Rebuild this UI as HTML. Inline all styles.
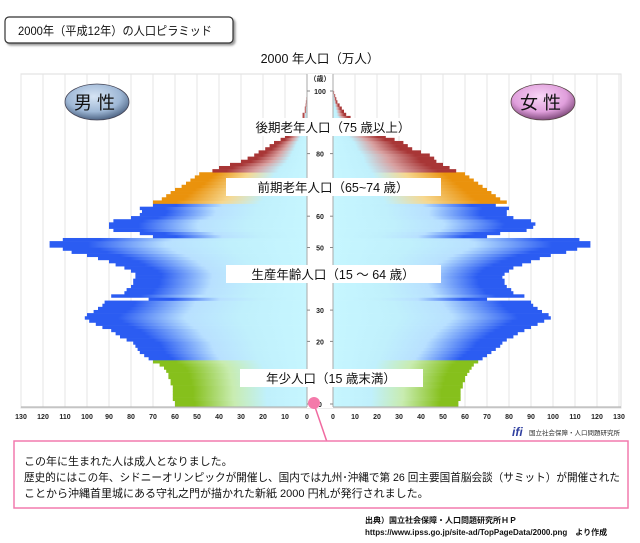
<!DOCTYPE html>
<html><head><meta charset="utf-8">
<style>
body{margin:0;background:#fff;width:640px;height:543px;overflow:hidden;font-family:"Liberation Sans","Noto Sans CJK JP",sans-serif;}
svg{position:absolute;left:0;top:0}
</style></head>
<body>
<svg id="s" width="640" height="543" viewBox="0 0 640 543" xmlns="http://www.w3.org/2000/svg" font-family="Liberation Sans, Noto Sans CJK JP, sans-serif">
<defs>
<filter id="sh" x="-10%" y="-10%" width="130%" height="150%"><feDropShadow dx="2" dy="2" stdDeviation="1" flood-color="#555" flood-opacity="0.6"/></filter>
<radialGradient id="ob" cx="45%" cy="35%" r="70%"><stop offset="0" stop-color="#d6e4f4"/><stop offset="0.6" stop-color="#9fb8d6"/><stop offset="1" stop-color="#3e5474"/></radialGradient>
<radialGradient id="op" cx="45%" cy="35%" r="70%"><stop offset="0" stop-color="#f8d6f6"/><stop offset="0.6" stop-color="#e09fdc"/><stop offset="1" stop-color="#6e3a6a"/></radialGradient>
</defs>
<g id="grid"></g>
<g id="bars"></g>
<rect x="307" y="74" width="26" height="334" fill="#fff"/>
<g id="axis"></g>
<rect x="5" y="17" width="228" height="26" rx="4" fill="#fff" stroke="#333" stroke-width="1.2" filter="url(#sh)"/>
<text x="18" y="35" font-size="12" fill="#111" textLength="194" lengthAdjust="spacingAndGlyphs">2000年（平成12年）の人口ピラミッド</text>
<text x="320" y="63" font-size="12.5" text-anchor="middle" fill="#111">2000 年人口（万人）</text>
<ellipse cx="97" cy="102" rx="32" ry="18" fill="url(#ob)" stroke="#445" stroke-width="0.8"/>
<text x="97" y="109" font-size="18" text-anchor="middle" fill="#111" letter-spacing="5">男性</text>
<ellipse cx="543" cy="102" rx="32" ry="18" fill="url(#op)" stroke="#544" stroke-width="0.8"/>
<text x="543" y="109" font-size="18" text-anchor="middle" fill="#111" letter-spacing="5">女性</text>
<rect x="258" y="118" width="150" height="18" fill="#fff"/>
<text x="333" y="132" font-size="12.5" text-anchor="middle" fill="#111">後期老年人口（75 歳以上）</text>
<rect x="226" y="178" width="215" height="18" fill="#fff"/>
<text x="333" y="192" font-size="12.5" text-anchor="middle" fill="#111">前期老年人口（65~74 歳）</text>
<rect x="226" y="265" width="215" height="18" fill="#fff"/>
<text x="333" y="279" font-size="12.5" text-anchor="middle" fill="#111">生産年齢人口（15 ～ 64 歳）</text>
<rect x="240" y="369" width="183" height="18" fill="#fff"/>
<text x="331" y="383" font-size="12.5" text-anchor="middle" fill="#111">年少人口（15 歳末満）</text>
<line x1="314" y1="404" x2="327" y2="442" stroke="#f06aa0" stroke-width="1.5"/>
<circle cx="314" cy="403" r="6" fill="#f47aaa"/>
<text x="512" y="436" font-size="12" font-style="italic" font-weight="bold" fill="#3040a0">ifi</text>
<text x="529" y="435" font-size="6.5" fill="#333">国立社会保障・人口問題研究所</text>
<rect x="14" y="441" width="614" height="67" fill="#fff" stroke="#f27aae" stroke-width="1.5"/>
<text x="24" y="465" font-size="11" fill="#111">この年に生まれた人は成人となりました。</text>
<text x="24" y="481" font-size="11" fill="#111" textLength="596" lengthAdjust="spacingAndGlyphs">歴史的にはこの年、シドニーオリンピックが開催し、国内では九州･沖縄で第 26 回主要国首脳会談（サミット）が開催された</text>
<text x="24" y="497" font-size="11" fill="#111">ことから沖縄首里城にある守礼之門が描かれた新紙 2000 円札が発行されました。</text>
<text x="365" y="523" font-size="8" font-weight="bold" fill="#111">出典）国立社会保障・人口問題研究所ＨＰ</text>
<text x="365" y="535" font-size="8" font-weight="bold" fill="#111">https://www.ipss.go.jp/site-ad/TopPageData/2000.png　より作成</text>
</svg>
<script>
var NS="http://www.w3.org/2000/svg";
function el(t,a,p){var e=document.createElementNS(NS,t);for(var k in a)e.setAttribute(k,a[k]);p.appendChild(e);return e;}
var s=document.getElementById('s'),defs=s.querySelector('defs'),grid=document.getElementById('grid'),bars=document.getElementById('bars'),axis=document.getElementById('axis');
var L0=307,R0=333,K=2.2;
el('rect',{x:21,y:74,width:600,height:334,fill:'#fff',stroke:'#ddd','stroke-width':1},grid);
for(var v=10;v<=130;v+=10){
 el('line',{x1:L0-v*K,y1:74,x2:L0-v*K,y2:407,stroke:'#e4e4e4','stroke-width':1},grid);
 el('line',{x1:R0+v*K,y1:74,x2:R0+v*K,y2:407,stroke:'#e4e4e4','stroke-width':1},grid);
}
var M=[60,60,61,61,61,61,61,62,62,63,63,64,65,67,70,72,74,76,77,78,79,82,85,87,89,93,96,99,101,100,97,95,93,92,72,89,83,82,80,79,79,78,78,80,83,87,90,95,100,107,111,117,117,111,70,76,88,90,90,88,80,76,75,76,70,70,66,64,62,60,57,55,53,51,49,43,40,35,30,27,24,22,19,17,15,12,10,8,7,5,3,3,2,2,1,1,.6,.5,.3,.2,.1];
var F=[57,57,58,58,58,58,59,59,60,60,61,62,63,64,66,68,70,72,74,76,77,79,82,84,87,90,93,96,99,98,95,93,91,90,70,87,82,81,79,78,78,77,78,80,82,86,90,94,99,106,111,117,117,112,70,76,88,91,92,90,82,79,79,80,74,79,76,74,72,70,68,66,64,62,60,56,53,50,47,46,44,40,36,34,32,28,24,20,17,14,12,10,8,6,5,4,3,2,1.5,1,.5];
var cols={g:'#86c01c',b:'#2b5cf2',o:'#ea920c',r:'#a83636'};
var mids={g:'#c8ecb0',b:'#b8e0ff',o:'#f6d890',r:'#d8a0a0'};
function band(a){return a<15?'g':a<65?'b':a<75?'o':'r';}
for(var c in cols){
 var gl=el('linearGradient',{id:'L'+c,x1:1,y1:0,x2:0,y2:0},defs);
 el('stop',{offset:0,'stop-color':'#c6f6ff'},gl);el('stop',{offset:0.3,'stop-color':'#c0f0fc'},gl);el('stop',{offset:0.55,'stop-color':mids[c]},gl);el('stop',{offset:0.85,'stop-color':cols[c]},gl);el('stop',{offset:1,'stop-color':cols[c]},gl);
 var gr=el('linearGradient',{id:'R'+c,x1:0,y1:0,x2:1,y2:0},defs);
 el('stop',{offset:0,'stop-color':'#c6f6ff'},gr);el('stop',{offset:0.3,'stop-color':'#c0f0fc'},gr);el('stop',{offset:0.55,'stop-color':mids[c]},gr);el('stop',{offset:0.85,'stop-color':cols[c]},gr);el('stop',{offset:1,'stop-color':cols[c]},gr);
}
var H=3.13;
for(var a=0;a<=100;a++){
 var y=407-H*(a+1),b=band(a);
 el('rect',{x:L0-M[a]*K,y:y,width:M[a]*K,height:H+0.3,fill:'url(#L'+b+')'},bars);
 el('rect',{x:R0,y:y,width:F[a]*K,height:H+0.3,fill:'url(#R'+b+')'},bars);
}
el('line',{x1:L0,y1:74,x2:L0,y2:407,stroke:'#aaa'},axis);
el('line',{x1:R0,y1:74,x2:R0,y2:407,stroke:'#aaa'},axis);
el('line',{x1:21,y1:407,x2:L0,y2:407,stroke:'#aaa'},axis);
el('line',{x1:R0,y1:407,x2:621,y2:407,stroke:'#aaa'},axis);
function tx(x,y,t,sz,anc){var e=el('text',{x:x,y:y,'font-size':sz,'text-anchor':anc||'middle',fill:'#222','font-weight':'bold'},axis);e.textContent=t;}
tx(320,81,'（歳）',7);
for(var g=0;g<=100;g+=10){var yy=404-H*g;tx(320,yy+3,String(g),7);
 el('line',{x1:L0,y1:yy,x2:L0+3,y2:yy,stroke:'#888'},axis);el('line',{x1:R0-3,y1:yy,x2:R0,y2:yy,stroke:'#888'},axis);}
for(var v=0;v<=130;v+=10){tx(L0-v*K,419,String(v),7);tx(R0+v*K,419,String(v),7);}
</script>
</body></html>
